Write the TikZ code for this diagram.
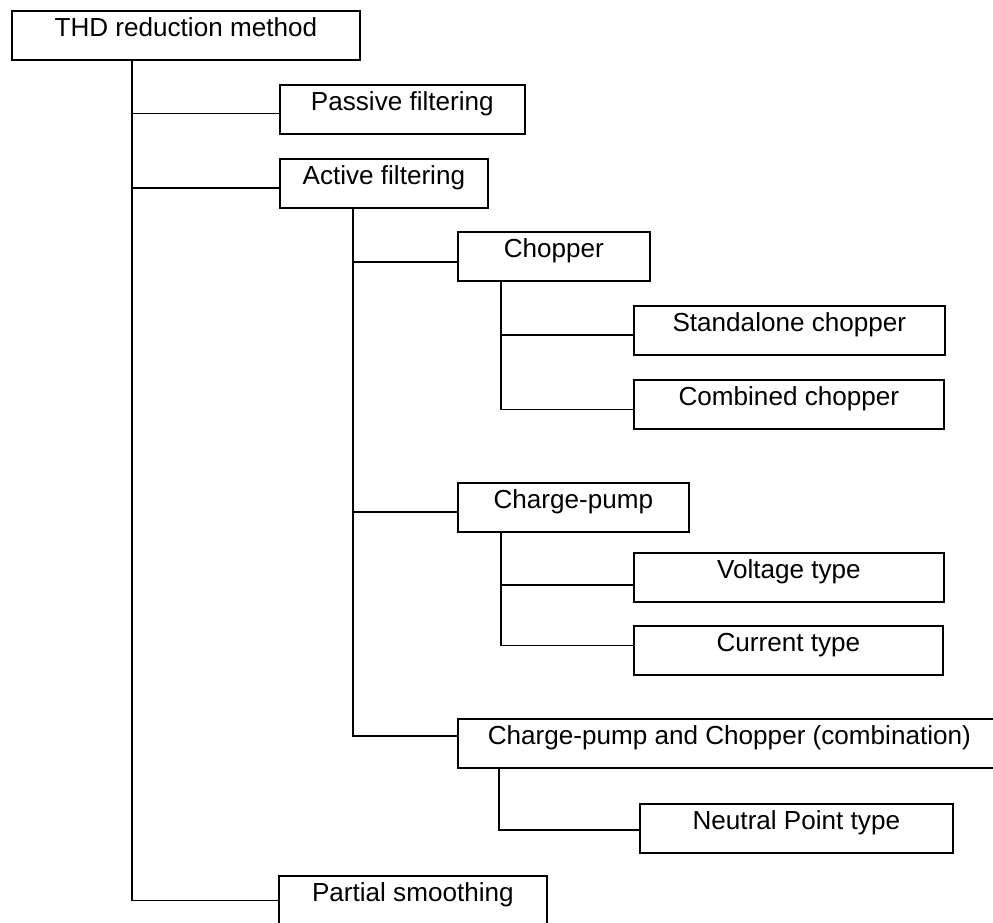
\documentclass[tikz,border=0pt]{standalone}
\usepackage{fontspec}
\setmainfont{Liberation Sans}
\usepackage{tikz}
\usetikzlibrary{positioning}
\tikzset{
  thdbox/.style={draw, line width=1.7pt, anchor=north west, inner xsep=0pt, inner ysep=0pt, minimum height=0pt,
                 text height=25.5pt, text depth=23.5pt, align=center},
  thdlink/.style={draw, line width=1.7pt}
}

\begin{document}
\begin{tikzpicture}[x=1pt, y=-1pt, font=\fontsize{26.1pt}{30pt}\selectfont]
  \useasboundingbox (0,0) rectangle (993,922);

  % boxes: name / left / top / width / text
  \foreach \n/\x/\y/\w/\t in {thd/11/10/348/THD reduction method,
                              pas/279/84/245/Passive filtering,
                              act/279/158/208/Active filtering,
                              chp/457/231/192/Chopper,
                              sac/633/305/311/Standalone chopper,
                              cmb/633/379/310/Combined chopper,
                              cpm/457/482/231/Charge-pump,
                              vlt/633/552/310/Voltage type,
                              cur/633/625/309/Current type,
                              cpc/457/718/543/Charge-pump and Chopper (combination),
                              npt/639/803/313/Neutral Point type,
                              par/278/875/268/Partial smoothing} {
    \node[thdbox, minimum width=\w pt] (\n) at (\x,\y) {\t};
  }

  % where the links meet the boxes
  \foreach \c/\d in {pas/-4, act/-4.5, chp/-5.5, sac/-4.5, cmb/-5, cpm/-4.5,
                     vlt/-7.5, cur/5, cpc/7.5, npt/-1.5, par/0} {
    \coordinate (\c-in) at ([yshift=\d pt]\c.west);
  }

  % trunk
  \path (thd.south west) ++(121,0) coordinate (t0);
  \draw[thdlink] (t0) |- (par-in);
  \foreach \c in {pas,act} {\draw[thdlink] (t0 |- \c-in) -- (\c-in);}

  % active filtering
  \path (act.south west) ++(74,0) coordinate (a0);
  \draw[thdlink] (a0) |- (cpc-in);
  \foreach \c in {chp,cpm} {\draw[thdlink] (a0 |- \c-in) -- (\c-in);}

  % chopper
  \path (chp.south west) ++(44,0) coordinate (c0);
  \draw[thdlink] (c0) |- (cmb-in);
  \draw[thdlink] (c0 |- sac-in) -- (sac-in);

  % charge-pump
  \path (cpm.south west) ++(44,0) coordinate (p0);
  \draw[thdlink] (p0) |- (cur-in);
  \draw[thdlink] (p0 |- vlt-in) -- (vlt-in);

  % combination
  \path (cpc.south west) ++(42,0) coordinate (k0);
  \draw[thdlink] (k0) |- (npt-in);
\end{tikzpicture}
\end{document}
